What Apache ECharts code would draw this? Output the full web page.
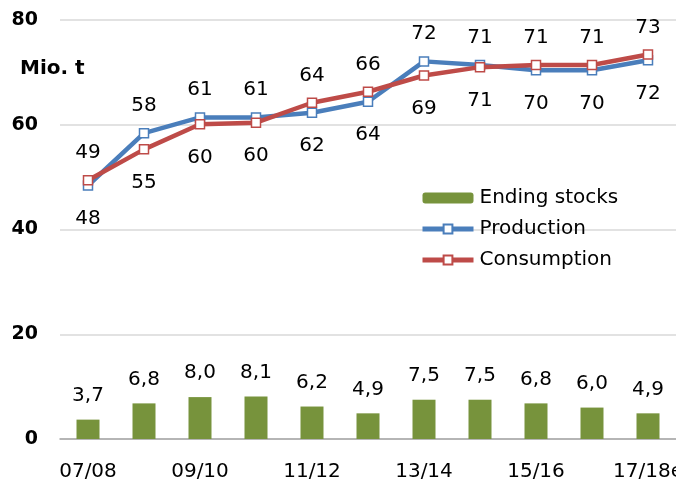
<!DOCTYPE html>
<html><head><meta charset="utf-8">
<script src="https://cdn.jsdelivr.net/npm/echarts@6/dist/echarts.min.js"></script>
<style>html,body{margin:0;padding:0;background:#fff}#c{width:676px;height:483px}</style>
</head><body><div id="c"></div>
<script>
const categories = ['07/08','08/09','09/10','10/11','11/12','12/13','13/14','14/15','15/16','16/17','17/18e'];
const endingStocks = [3.7, 6.8, 8.0, 8.1, 6.2, 4.9, 7.5, 7.5, 6.8, 6.0, 4.9];
const production = [48.4, 58.4, 61.4, 61.4, 62.3, 64.4, 72.1, 71.4, 70.4, 70.4, 72.3];
const consumption = [49.4, 55.3, 60.1, 60.4, 64.2, 66.3, 69.4, 71.0, 71.4, 71.4, 73.4];
const yTicks = [0, 20, 40, 60, 80];

const FONT = 'DejaVu Sans';
const BLUE = '#4a7ebb', RED = '#be4b48', GREEN = '#77933c';
const TOPD = 12, BOTD = 18;

function lineData(vals, other) {
  return vals.map((v, i) => {
    const higher = v > other[i];
    return {
      value: v,
      label: { position: higher ? 'top' : 'bottom', distance: higher ? TOPD : BOTD }
    };
  });
}

const chart = echarts.init(document.getElementById('c'), null, { renderer: 'canvas' });
chart.setOption({
  animation: false,
  textStyle: { fontFamily: FONT },
  grid: { left: 60, right: 0, top: 20, bottom: 44, containLabel: false, outerBoundsMode: 'none' },
  graphic: [{
    type: 'text', left: 20, top: 59,
    style: { text: 'Mio. t', font: 'bold 20px "DejaVu Sans"', fill: '#000' }
  }],
  legend: {
    orient: 'vertical', left: 420, top: 188, padding: 0,
    itemWidth: 51, itemHeight: 11, itemGap: 11,
    lineStyle: { width: 5 },
    textStyle: { fontFamily: FONT, fontSize: 20, color: '#000', padding: [0, 0, 0, 1] },
    data: ['Ending stocks', 'Production', 'Consumption']
  },
  xAxis: {
    type: 'category', data: categories, boundaryGap: true,
    axisLine: { lineStyle: { color: '#a6a6a6', width: 1.5 } },
    axisTick: { show: false },
    axisLabel: { interval: 1, margin: 23, fontFamily: FONT, fontSize: 20, color: '#000' }
  },
  yAxis: {
    type: 'value', min: yTicks[0], max: yTicks[yTicks.length - 1], interval: 20,
    axisLine: { show: false }, axisTick: { show: false },
    splitLine: { lineStyle: { color: '#d9d9d9', width: 1.5 } },
    axisLabel: { margin: 22, fontFamily: FONT, fontSize: 19, fontWeight: 'bold', color: '#000' }
  },
  series: [
    {
      name: 'Ending stocks', type: 'bar', data: endingStocks, barWidth: 23,
      itemStyle: { color: GREEN },
      label: {
        show: true, position: 'top', distance: 14, fontFamily: FONT, fontSize: 20, color: '#000',
        formatter: p => p.value.toFixed(1).replace('.', ',')
      }
    },
    {
      name: 'Production', type: 'line', data: lineData(production, consumption),
      symbol: 'rect', symbolSize: 9,
      lineStyle: { color: BLUE, width: 4.5 },
      itemStyle: { color: '#fff', borderColor: BLUE, borderWidth: 1.5 },
      label: { show: true, fontFamily: FONT, fontSize: 20, color: '#000',
        formatter: p => Math.round(p.value).toString() },
      z: 3
    },
    {
      name: 'Consumption', type: 'line', data: lineData(consumption, production),
      symbol: 'rect', symbolSize: 9,
      lineStyle: { color: RED, width: 4.5 },
      itemStyle: { color: '#fff', borderColor: RED, borderWidth: 1.5 },
      label: { show: true, fontFamily: FONT, fontSize: 20, color: '#000',
        formatter: p => Math.round(p.value).toString() },
      z: 4
    }
  ]
});
</script></body></html>
